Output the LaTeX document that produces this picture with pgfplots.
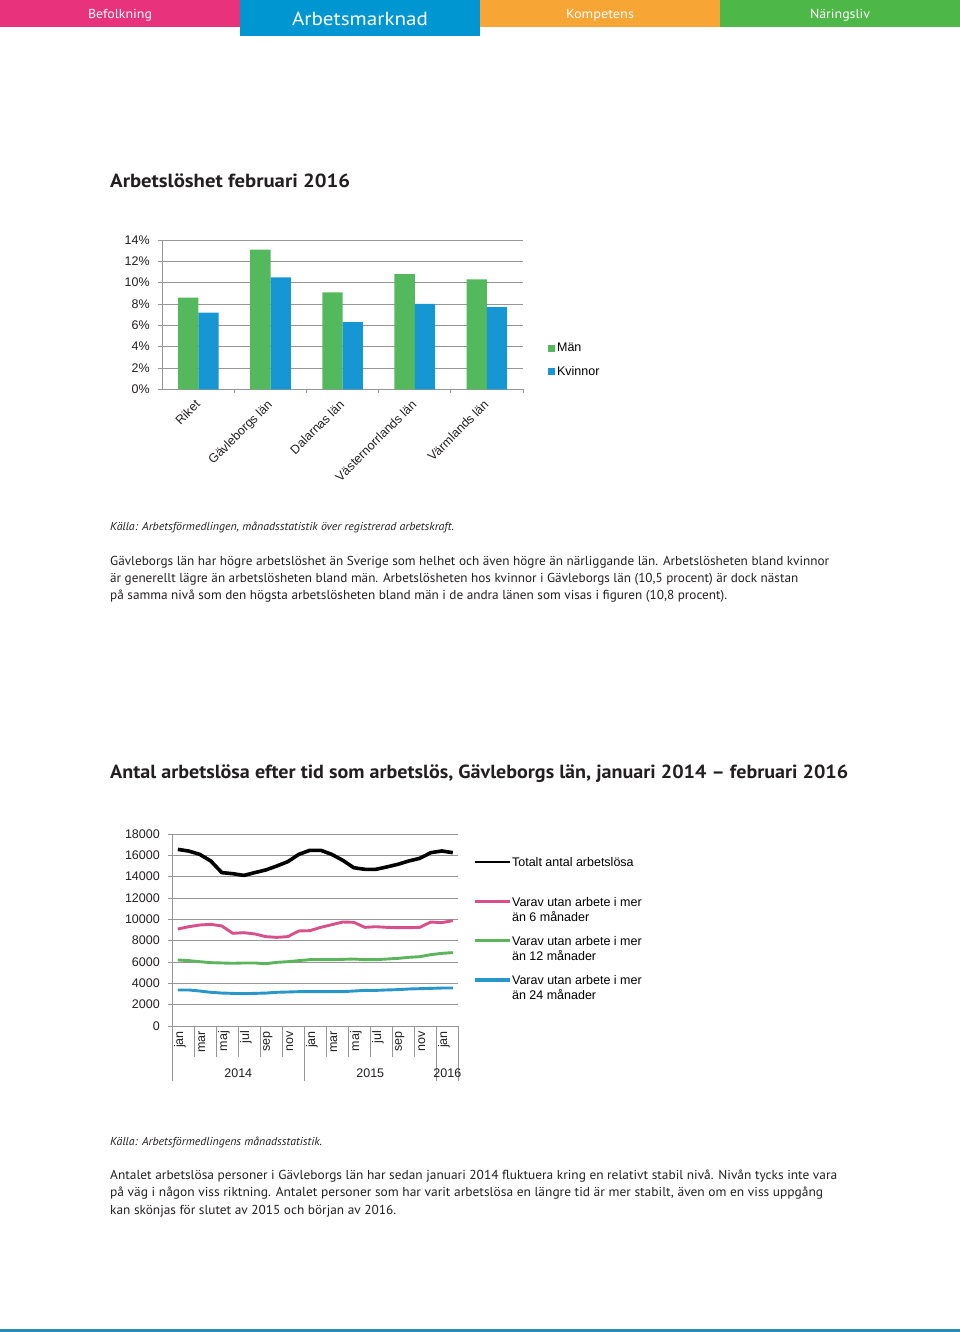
\documentclass[border=0pt]{standalone}
\usepackage{pgfplots}
\usepackage{pgfplotstable}
\pgfplotsset{compat=1.18}
\usepackage{fontspec}
\setmainfont{PT Sans}
\newfontfamily\arial{Liberation Sans}
\definecolor{tabpink}{RGB}{232,50,124}
\definecolor{tabblue}{RGB}{0,150,209}
\definecolor{taborange}{RGB}{247,165,53}
\definecolor{tabgreen}{RGB}{77,184,72}
\definecolor{bargreen}{RGB}{84,184,92}
\definecolor{barblue}{RGB}{22,150,210}
\definecolor{lpink}{RGB}{215,80,140}
\definecolor{lgreen}{RGB}{92,180,92}
\definecolor{lblue}{RGB}{40,150,200}
\definecolor{txt}{RGB}{35,31,32}
\definecolor{gridc}{RGB}{150,150,150}
\definecolor{bottomline}{RGB}{40,140,180}
\pgfplotsset{/pgf/number format/assume math mode=true}

\pgfplotstableread{
x men women
0 8.6 7.2
1 13.1 10.5
2 9.1 6.3
3 10.8 8.0
4 10.3 7.7
}\bardata

\pgfplotstableread{
i total m6 m12 m24
0 16560 9090 6190 3380
1 16400 9310 6130 3380
2 16090 9470 6030 3280
3 15470 9530 5940 3160
4 14380 9380 5910 3090
5 14280 8690 5880 3060
6 14120 8750 5910 3030
7 14380 8630 5910 3060
8 14630 8380 5840 3090
9 15000 8310 5970 3160
10 15410 8380 6030 3190
11 16090 8910 6130 3220
12 16470 8940 6220 3220
13 16470 9250 6220 3220
14 16090 9500 6220 3220
15 15530 9750 6250 3220
16 14840 9720 6280 3280
17 14690 9250 6220 3340
18 14690 9310 6220 3340
19 14910 9250 6280 3380
20 15160 9220 6340 3410
21 15470 9220 6440 3470
22 15720 9250 6500 3500
23 16250 9750 6690 3530
24 16410 9690 6810 3560
25 16250 9880 6880 3560
}\linedata

\newcommand\chartfont{\arial\fontsize{12.5}{15}\selectfont}
\newcommand\bodyfont{\fontsize{13}{16}\selectfont}
\newcommand\txtline[3]{\node[anchor=base west, inner sep=0pt, text=txt] at (110,-#1) {\resizebox{#2pt}{\height}{\bodyfont #3}};}
\newcommand\twoline[2]{\makebox[0pt][l]{\raisebox{-15pt}{#2}}#1}

\begin{document}
\begin{tikzpicture}[x=1pt,y=1pt]
\path[use as bounding box] (0,0) rectangle (960,-1332);
% header tabs
\fill[tabpink] (0,0) rectangle (240,-27);
\fill[tabblue] (240,0) rectangle (480,-36);
\fill[taborange] (480,0) rectangle (720,-27);
\fill[tabgreen] (720,0) rectangle (960,-27);
\node[anchor=base, inner sep=0pt, text=white] at (120,-18.5) {\resizebox{64pt}{\height}{\fontsize{13}{15}\selectfont Befolkning}};
\node[anchor=base, inner sep=0pt, text=white] at (360,-25.5) {\resizebox{136pt}{\height}{\fontsize{19}{22}\selectfont Arbetsmarknad}};
\node[anchor=base, inner sep=0pt, text=white] at (600,-18.5) {\resizebox{68pt}{\height}{\fontsize{13}{15}\selectfont Kompetens}};
\node[anchor=base, inner sep=0pt, text=white] at (840,-18.5) {\resizebox{60pt}{\height}{\fontsize{13}{15}\selectfont Näringsliv}};
% bottom line
\fill[bottomline] (0,-1329) rectangle (960,-1332);

% titles
\node[anchor=base west, inner sep=0pt, text=txt] at (110,-188) {\resizebox{240pt}{\height}{\fontsize{19}{22}\selectfont\bfseries Arbetslöshet februari 2016}};
\node[anchor=base west, inner sep=0pt, text=txt] at (110,-778) {\resizebox{738pt}{\height}{\fontsize{19}{22}\selectfont\bfseries Antal arbetslösa efter tid som arbetslös, Gävleborgs län, januari 2014 -- februari 2016}};

% sources
\node[anchor=base west, inner sep=0pt, text=txt] at (110,-530) {\resizebox{344pt}{\height}{\fontsize{11.5}{14}\selectfont\itshape Källa: Arbetsförmedlingen, månadsstatistik över registrerad arbetskraft.}};
\node[anchor=base west, inner sep=0pt, text=txt] at (110,-1145) {\resizebox{212pt}{\height}{\fontsize{11.5}{14}\selectfont\itshape Källa: Arbetsförmedlingens månadsstatistik.}};

% paragraph 1
\txtline{565}{719}{Gävleborgs län har högre arbetslöshet än Sverige som helhet och även högre än närliggande län. Arbetslösheten bland kvinnor}
\txtline{582}{688}{är generellt lägre än arbetslösheten bland män. Arbetslösheten hos kvinnor i Gävleborgs län (10,5 procent) är dock nästan}
\txtline{599}{617}{på samma nivå som den högsta arbetslösheten bland män i de andra länen som visas i figuren (10,8 procent).}
% paragraph 2
\txtline{1179.5}{727}{Antalet arbetslösa personer i Gävleborgs län har sedan januari 2014 fluktuera kring en relativt stabil nivå. Nivån tycks inte vara}
\txtline{1196.5}{713}{på väg i någon viss riktning. Antalet personer som har varit arbetslösa en längre tid är mer stabilt, även om en viss uppgång}
\txtline{1214}{286}{kan skönjas för slutet av 2015 och början av 2016.}

% bar chart
\begin{axis}[
  at={(162.3pt,-389.3pt)}, anchor=south west,
  scale only axis, width=360.7pt, height=149.3pt,
  xmin=-0.5, xmax=4.5, ymin=0, ymax=14,
  ybar=0pt, bar width=20.3pt,
  axis x line*=bottom, axis y line*=left,
  axis line style={draw=gridc, line width=0.8pt, -},
  ytick={0,2,...,14},
  yticklabel={\pgfmathprintnumber{\tick}\%},
  ymajorgrids, major grid style={draw=gridc, line width=0.8pt},
  tick align=outside, major tick length=4pt,
  ytick style={draw=gridc, line width=0.8pt},
  xtick={0,...,4},
  xticklabels={Riket,Gävleborgs län,Dalarnas län,Västernorrlands län,Värmlands län},
  xtick style={draw=none},
  ticklabel style={font=\chartfont, text=txt},
  yticklabel style={xshift=-5pt},
  xticklabel style={xshift=-4pt, yshift=-4pt, rotate=45, anchor=north east, inner sep=1pt},
  clip=false,
  legend style={draw=none, fill=none, at={(1.069,0.3236)}, anchor=north west,
    cells={anchor=west}, font=\chartfont, row sep=9pt, inner sep=0pt,
    /tikz/every even column/.append style={column sep=0pt}},
]
\addplot[fill=bargreen, draw=none, legend image code/.code={\fill[bargreen] (0pt,-3.5pt) rectangle (7pt,3.5pt);}] table[x=x,y=men]{\bardata};
\addplot[fill=barblue, draw=none, legend image code/.code={\fill[barblue] (0pt,-3.5pt) rectangle (7pt,3.5pt);}] table[x=x,y=women]{\bardata};
\legend{Män,Kvinnor}
\pgfplotsinvokeforeach{0.5,1.5,2.5,3.5,4.5}{\draw[gridc, line width=0.8pt] (axis cs:#1,0) -- ++(0pt,-4pt);}
\end{axis}

% line chart
\begin{axis}[
  at={(172.3pt,-1026pt)}, anchor=south west,
  scale only axis, width=286pt, height=192pt,
  xmin=-0.5, xmax=25.5, ymin=0, ymax=18000,
  axis x line*=bottom, axis y line*=left,
  axis line style={draw=gridc, line width=0.8pt, -},
  ytick={0,2000,...,18000},
  scaled y ticks=false,
  yticklabel style={/pgf/number format/1000 sep={}, xshift=-5pt},
  ymajorgrids, major grid style={draw=gridc, line width=0.8pt},
  tick align=outside, major tick length=4pt,
  ytick style={draw=gridc, line width=0.8pt},
  xtick={0,2,...,24},
  xticklabels={jan,mar,maj,jul,sep,nov,jan,mar,maj,jul,sep,nov,jan},
  xtick style={draw=none},
  ticklabel style={font=\chartfont, text=txt},
  xticklabel style={rotate=90, anchor=east, inner sep=1pt, yshift=-2pt},
  clip=false,
  legend style={draw=none, fill=none, at={(1.051,0.8854)}, anchor=north west,
    cells={anchor=west}, font=\chartfont, row sep=27.3pt, inner sep=0pt,
    nodes={inner ysep=0pt, inner xsep=0.5pt},
    /tikz/every even column/.append style={column sep=0pt}},
]
\addplot[black, line width=3.6pt, line join=round, legend image code/.code={\draw[black, line width=1.6pt] (0pt,0pt) -- (35pt,0pt);}] table[x=i,y=total]{\linedata};
\addlegendentry{\strut Totalt antal arbetslösa}
\addplot[lpink, line width=2.9pt, line join=round, legend image code/.code={\draw[lpink, line width=2.4pt] (0pt,0pt) -- (35pt,0pt);}] table[x=i,y=m6]{\linedata};
\addlegendentry{\strut\twoline{Varav utan arbete i mer}{än 6 månader}}
\addplot[lgreen, line width=2.9pt, line join=round, legend image code/.code={\draw[lgreen, line width=2.8pt] (0pt,0pt) -- (35pt,0pt);}] table[x=i,y=m12]{\linedata};
\addlegendentry{\strut\twoline{Varav utan arbete i mer}{än 12 månader}}
\addplot[lblue, line width=2.9pt, line join=round, legend image code/.code={\draw[lblue, line width=3.5pt] (0pt,0pt) -- (35pt,0pt);}] table[x=i,y=m24]{\linedata};
\addlegendentry{\strut\twoline{Varav utan arbete i mer}{än 24 månader}}
\pgfplotsinvokeforeach{1.5,3.5,5.5,7.5,9.5,13.5,15.5,17.5,19.5,21.5}{\draw[gridc, line width=0.8pt] (axis cs:#1,0) -- ++(0pt,-31pt);}
\pgfplotsinvokeforeach{-0.5,11.5,23.5,25.5}{\draw[gridc, line width=0.8pt] (axis cs:#1,0) -- ++(0pt,-55pt);}
\node[anchor=base, font=\chartfont, text=txt] at ([yshift=-51pt]axis cs:5.5,0) {2014};
\node[anchor=base, font=\chartfont, text=txt] at ([yshift=-51pt]axis cs:17.5,0) {2015};
\node[anchor=base, font=\chartfont, text=txt] at ([yshift=-51pt]axis cs:24.5,0) {2016};
\end{axis}
\end{tikzpicture}
\end{document}
